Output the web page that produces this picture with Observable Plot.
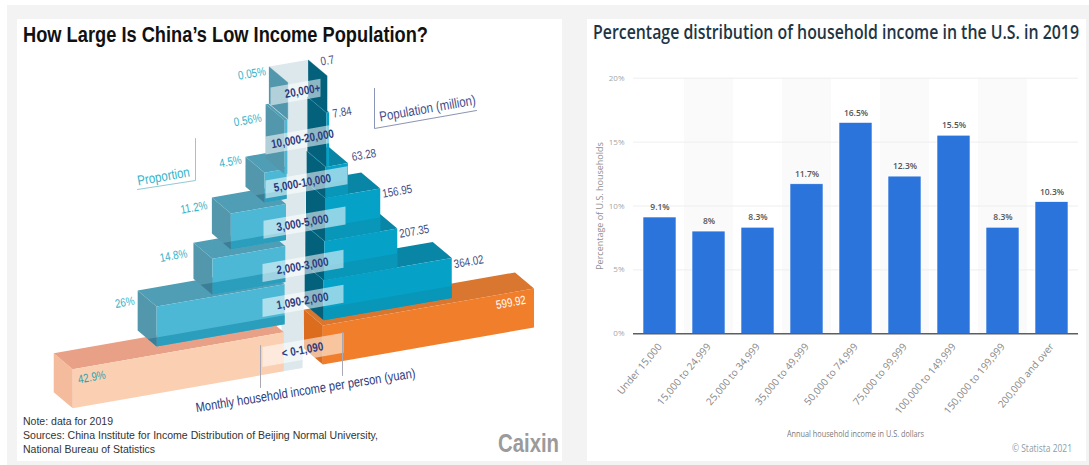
<!DOCTYPE html>
<html><head><meta charset="utf-8">
<script src="https://cdn.jsdelivr.net/npm/d3@7"></script>
<script src="https://cdn.jsdelivr.net/npm/@observablehq/plot@0.6"></script>
<style>
html,body{margin:0;padding:0;background:#fff;width:1089px;height:465px;overflow:hidden}
.abs{position:absolute;white-space:nowrap;transform-origin:0 50%}
#bg{position:absolute;left:7px;top:5px;width:1082px;height:460px;background:#f3f3f3}
.card{position:absolute;top:19px;height:442px;background:#fff}
#lp,#rp{position:absolute}
svg{display:block}
</style></head><body>
<div id="bg"></div>
<div class="card" style="left:17px;width:545px"></div>
<div class="card" style="left:587px;width:499px"></div>
<div id="lp" style="left:0;top:0"></div>
<div id="rp" style="left:587px;top:19px"></div>
<script>
// ---------- left chart data ----------
const bands = ["< 0-1,090","1,090-2,000","2,000-3,000","3,000-5,000","5,000-10,000","10,000-20,000","20,000+"];
const population = [599.92,364.02,207.35,156.95,63.28,7.84,0.7];
const populationText = ["599.92","364.02","207.35","156.95","63.28","7.84","0.7"];
const share = [42.9,26,14.8,11.2,4.5,0.56,0.05];
const shareText = ["42.9%","26%","14.8%","11.2%","4.5%","0.56%","0.05%"];
// ---------- right chart data ----------
const incomeRanges = ["Under 15,000","15,000 to 24,999","25,000 to 34,999","35,000 to 49,999","50,000 to 74,999","75,000 to 99,999","100,000 to 149,999","150,000 to 199,999","200,000 and over"];
const incomeShare = [9.1,8,8.3,11.7,16.5,12.3,15.5,8.3,10.3];
const incomeText = ["9.1%","8%","8.3%","11.7%","16.5%","12.3%","15.5%","8.3%","10.3%"];

// ---------- left chart layout ----------
const W = 575, H = 465, OX = 322, OY = 364, R = 0.352, SL = 0.175, DX = 19, DY = 16;
const PER_SHARE = 13.98, GAP = 39 / R, DU = DX / R, SU = SL * R;
const blockBottom = [0,44,84,123,166,197,251];
const blockTop    = [39,84,123,166,197,251,288];
const leftBottomLift = [0,3,5,8,6,0,0];
const leftTopLift    = [0,3,2,1,5,0,0];
const STRIP_DEPTH = [0,17,14,14,14];
const bandCentre  = [18,67,102,145,185,229,277];
const bandFrom    = [262,262,262,263,265,265,270];
const bandTo      = [343,343,343,345,347,340,320];
const popOff = [[-23,14],[17,4],[17,3],[17,3],[16,-8],[13,0],[0,-15]];
const shareOff = [[19,8],[-32,-7],[-39,-5],[-37,-7],[-34,-16],[-37,0],[-36,-9]];
const leanOf = h => h * 5 / 290;
const toU = px => (px - OX) / R;
const toH = py => OY - py;
const colors = {
  rFront:["#f17e2a","#06a1c7"], rTop:["#d9762f","#0985a6"], rIn:["#dc6d1e","#04617c"], rStrip:["#f17e2a","#0896b9"],
  lFront:["#fbd0b2","#4cb8d5"], lTop:["#e8a087","#4f9eb5"], lCap:["#f4bb9c","#5397ad"], lStrip:["#e8a087","#2a9ebc"], lTri:["#e8a087","#3b7f96"]
};
const faces = [];
let fid = 0;
function face(color, pts) {
  const id = fid++;
  for (const [u, h, d] of pts) faces.push({id, color, x: u - DU * d, y: h + SU * u + DY * d});
}
const c = i => i === 0 ? 0 : 1;
// back wall of the central gap
const leanTop = leanOf(blockTop[6]) / R;
face("#dde8ec", [[-GAP,0,0],[-GAP+DU,0,0],[leanTop,blockTop[6],1],[-GAP+leanTop,blockTop[6],1]]);
for (let i = 0; i < bands.length; i++) {
  const b = blockBottom[i], t = blockTop[i], ln = leanOf((b + t) / 2) / R;
  const lb = b + leftBottomLift[i], lt = t + leftTopLift[i];
  const rIn = ln, rOut = population[i] + ln;
  const lIn = -GAP + ln, lOut = -GAP - share[i] * PER_SHARE + ln;
  // left block: cap, top, front
  face(colors.lCap[c(i)], [[lOut,lb,0],[lOut,lt,0],[lOut,lt,1],[lOut,lb,1]]);
  face(colors.lTop[c(i)], [[lOut,lt,0],[lIn,lt,0],[lIn,lt,1],[lOut,lt,1]]);
  face(colors.lFront[c(i)], [[lOut,lb,0],[lOut,lt,0],[lIn,lt,0],[lIn,lb,0]]);
  // right block: top, inner side, front
  face(colors.rTop[c(i)], [[rIn,t,0],[rOut,t,0],[rOut,t,1],[rIn,t,1]]);
  face(colors.rIn[c(i)], [[rIn,b,0],[rIn,t,0],[rIn,t,1],[rIn,b,1]]);
  face(colors.rFront[c(i)], [[rIn,b,0],[rOut,b,0],[rOut,t,0],[rIn,t,0]]);
  if (i > 0 && i < 5) {
    // the lower block's top shows through the foot of this block
    const backL = blockTop[i-1] + leftTopLift[i-1] + STRIP_DEPTH[i];
    const backR = blockTop[i-1] + STRIP_DEPTH[i];
    face(colors.lStrip[c(i)], [[lOut,lb,0],[lOut,backL,0],[lIn,backL,0],[lIn,lb,0]]);
    face(colors.rStrip[c(i)], [[rIn,b,0],[rOut,b,0],[rOut,backR,0],[rIn,backR,0]]);
    const k = (backL - lb) / (DY + DX * SL);
    if (k > 0 && k < 1) face(colors.lTri[c(i)], [[lOut,lb,0],[lOut,backL,0],[lOut,lb,k]]);
  }
}
// pale label bands
const bandRows = [];
bands.forEach((b, i) => {
  const half = i === 0 ? 10 : 9;
  const a = toU(bandFrom[i]), z = toU(bandTo[i]), m = bandCentre[i];
  const id = fid++;
  for (const [u, h] of [[a,m-half],[a,m+half],[z,m+half],[z,m-half]]) bandRows.push({id, x:u, y:h + SU * u});
});
const bandLabels = bands.map((b, i) => ({t:b, x:toU(302), y:bandCentre[i] + SU * toU(302)}));
const popLabels = population.map((p, i) => {
  const ln = leanOf((blockBottom[i] + blockTop[i]) / 2) / R, u = p + ln;
  return {t:populationText[i], white:i === 0, x:u + popOff[i][0] / R, y:blockTop[i] + SU * u - popOff[i][1]};
});
const shareLabels = share.map((s, i) => {
  const ln = leanOf((blockBottom[i] + blockTop[i]) / 2) / R, u = -GAP - s * PER_SHARE + ln;
  return {t:shareText[i], dark:i === 0, x:u + shareOff[i][0] / R, y:blockTop[i] + SU * u - shareOff[i][1]};
});
const xy = (px, py) => ({x:toU(px), y:toH(py)});
const LABEL_FONT = "'Liberation Sans',Arial,sans-serif";
const left = Plot.plot({
  width:W, height:H, margin:0,
  x:{domain:[toU(0),toU(W)], range:[0,W], axis:null},
  y:{domain:[toH(H),toH(0)], range:[H,0], axis:null},
  color:{type:"identity"}, style:{background:"transparent",overflow:"visible"},
  marks:[
    Plot.line(faces,{x:"x",y:"y",z:"id",fill:"color",stroke:"none",curve:"linear"}),
    Plot.line(bandRows,{x:"x",y:"y",z:"id",fill:"#fff",fillOpacity:0.55,stroke:"none",curve:"linear"}),
    Plot.line([xy(195,138),xy(195,180),xy(137,189)],{x:"x",y:"y",stroke:"#8fcbd6",strokeWidth:1,curve:"linear"}),
    Plot.line([xy(374,88),xy(374,128),xy(476,110)],{x:"x",y:"y",stroke:"#8a94b4",strokeWidth:1,curve:"linear"}),
    Plot.line([xy(260,345),xy(260,387)],{x:"x",y:"y",stroke:"#a9a9b5",strokeWidth:1,curve:"linear"}),
    Plot.line([xy(342,332),xy(342,375)],{x:"x",y:"y",stroke:"#a9a9b5",strokeWidth:1,curve:"linear"}),
    Plot.text(bandLabels,{x:"x",y:"y",text:"t",rotate:-10,fontSize:12,fontWeight:700,fill:"#2c3a7c",fontFamily:LABEL_FONT}),
    Plot.text(popLabels.filter(d=>!d.white),{x:"x",y:"y",text:"t",rotate:-10,fontSize:12,fill:"#454f85",fontFamily:LABEL_FONT}),
    Plot.text(popLabels.filter(d=>d.white),{x:"x",y:"y",text:"t",rotate:-10,fontSize:12,fill:"#fff",fontFamily:LABEL_FONT}),
    Plot.text(shareLabels.filter(d=>!d.dark),{x:"x",y:"y",text:"t",rotate:-10,fontSize:12,fill:"#35b3c9",fontFamily:LABEL_FONT}),
    Plot.text(shareLabels.filter(d=>d.dark),{x:"x",y:"y",text:"t",rotate:-10,fontSize:12,fill:"#2ea3ae",fontFamily:LABEL_FONT}),
    Plot.text([{t:"Proportion",...xy(163,176)}],{x:"x",y:"y",text:"t",rotate:-10,fontSize:14,fill:"#35b3c9",fontFamily:LABEL_FONT}),
    Plot.text([{t:"Population (million)",...xy(427,108)}],{x:"x",y:"y",text:"t",rotate:-10,fontSize:14,fill:"#3f4e8c",fontFamily:LABEL_FONT}),
    Plot.text([{t:"Monthly household income per person (yuan)",...xy(305,390)}],{x:"x",y:"y",text:"t",rotate:-9,fontSize:13.5,fill:"#2c3a7c",fontFamily:LABEL_FONT})
  ]
});
document.getElementById("lp").append(left);
// the reference's label face is a condensed one: keep the glyphs but narrow them
d3.select(left).selectAll("text").each(function () {
  this.setAttribute("textLength", this.getComputedTextLength() * 0.82);
  this.setAttribute("lengthAdjust", "spacingAndGlyphs");
});

// ---------- right chart ----------
const rows = incomeRanges.map((r, i) => ({r, v:incomeShare[i], t:incomeText[i]}));
const FONT = "'Open Sans',sans-serif";
const right = Plot.plot({
  width:499, height:442, marginLeft:46, marginRight:8, marginTop:58.7, marginBottom:127.7,
  style:{background:"transparent",overflow:"visible",fontFamily:FONT},
  x:{domain:incomeRanges, paddingInner:0.32, paddingOuter:0.16, align:0.5, axis:null},
  y:{domain:[0,20], axis:null},
  marks:[
    Plot.cell(incomeRanges.filter((d,i)=>i%2===1),{x:d=>d,fill:"#fafafa",insetLeft:-7.9,insetRight:-7.9}),
    Plot.ruleY([5,10,15,20],{stroke:"#eeeeee",strokeWidth:1}),
    Plot.barY(rows,{x:"r",y:"v",fill:"#2a74db",stroke:"#ffffff",strokeWidth:0.6}),
    Plot.ruleY([0],{stroke:"#5b5f63",strokeWidth:1.5}),
    Plot.text(rows,{x:"r",y:"v",text:"t",dy:-10,fontSize:8.5,fontWeight:600,fill:"#555555"}),
    Plot.axisY({anchor:"left",ticks:[0,5,10,15,20],tickSize:0,tickPadding:9,tickFormat:d=>d+"%",fontSize:8,fill:"#a6a6a6",label:null}),
    Plot.axisX({anchor:"bottom",tickSize:0,tickRotate:-50,tickPadding:11,fontSize:10,fill:"#888888",label:null}),
    Plot.text(["Percentage of U.S. households"],{frameAnchor:"left",textAnchor:"middle",rotate:-90,dx:-33,fontSize:9,fill:"#8f8f8f",letterSpacing:"0.4px"})
  ]
});
document.getElementById("rp").append(right);

// ---------- page text, each fitted to the width it has in the picture ----------
function put(text, x, yc, size, color, weight, family, width) {
  const d = document.createElement("div");
  d.className = "abs";
  d.textContent = text;
  d.style.cssText = `left:${x}px;top:${yc - size * 0.65}px;line-height:${size * 1.3}px;font-size:${size}px;color:${color};font-weight:${weight};font-family:${family}`;
  document.body.append(d);
  if (width) d.style.transform = `scaleX(${width / d.getBoundingClientRect().width})`;
}
const SANS = "'Liberation Sans',Arial,sans-serif";
put("How Large Is China\u2019s Low Income Population?",23,36,21.5,"#111",700,SANS,405);
put("Note: data for 2019",23,421,11.5,"#333",400,SANS,90);
put("Sources: China Institute for Income Distribution of Beijing Normal University,",23,435,11.5,"#333",400,SANS,355);
put("National Bureau of Statistics",23,449,11.5,"#333",400,SANS,132);
put("Caixin",498,443,25,"#9b9b9b",700,SANS,61);
put("Percentage distribution of household income in the U.S. in 2019",593,32,19,"#1e3544",600,FONT,486);
put("Annual household income in U.S. dollars",787,434,8.5,"#7a7a7a",400,FONT,137);
put("\u00a9 Statista 2021",1012,448,10,"#8d9ea8",400,FONT,60);
</script>
</body></html>
